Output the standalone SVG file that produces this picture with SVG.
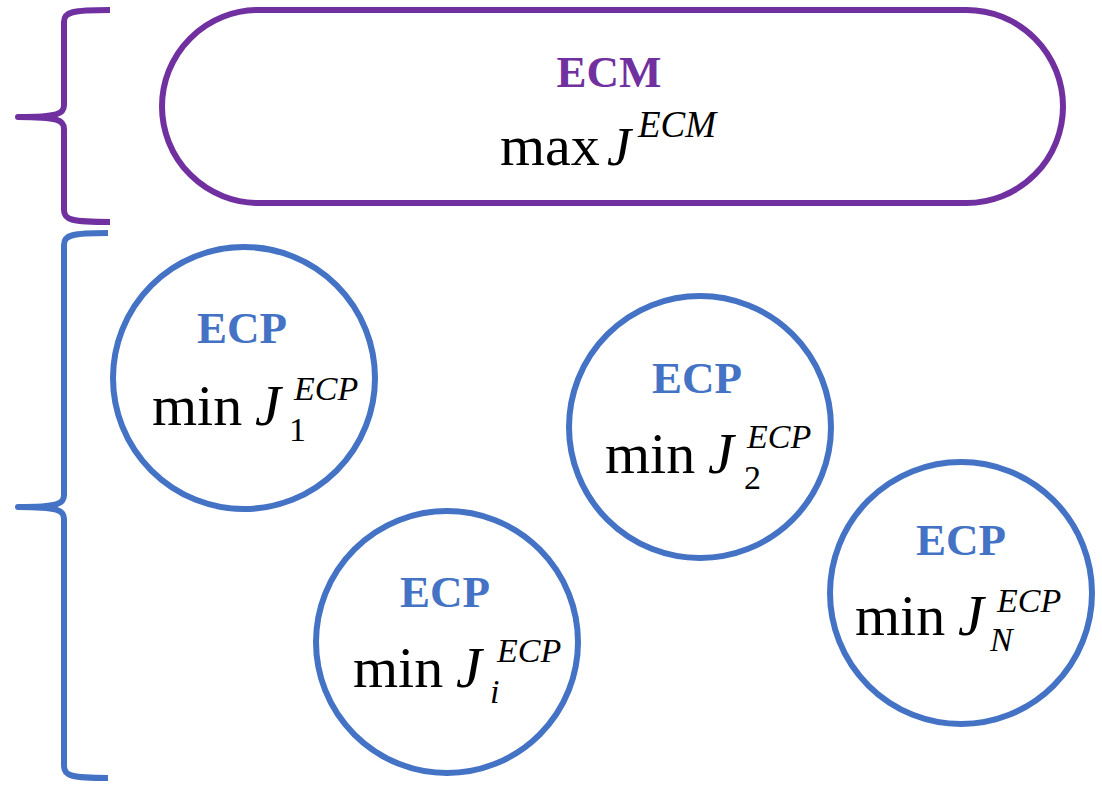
<svg xmlns="http://www.w3.org/2000/svg" width="1102" height="785" viewBox="0 0 1102 785">
<style>
.brace{fill:none;stroke-width:6;stroke-linejoin:round}
.node{fill:#fff;stroke:#4472C4;stroke-width:6}
text{font-family:'Liberation Serif','Times New Roman',Times,serif}
.lbl{font-weight:bold;font-size:45px;text-anchor:middle}
.m{font-size:58px;fill:#000}
.it{font-style:italic;fill:#000}
.J{font-size:58px}
.s{font-size:34px}
</style>
<rect width="1102" height="785" fill="#fff"/>
<g id="braces">
<path class="brace" stroke="#7030A0" d="M110,10 C72,10 64,12 64,22 L64,105 C64,114 58,117 18,117 C58,117 64,120 64,129 L64,210 C64,220 72,222 110,222"/>
<path class="brace" stroke="#4472C4" d="M108,233 C72,233 64,235 64,245 L64,495 C64,504 58,507 18,507 C58,507 64,510 64,519 L64,766 C64,776 72,778 108,778"/>
</g>
<g id="ecm">
<rect x="162" y="10" width="901" height="193" rx="96.5" fill="#fff" stroke="#7030A0" stroke-width="6"/>
<text class="lbl" x="609" y="87" fill="#7030A0">ECM</text>
<text class="m" x="500" y="165" font-size="49">max</text>
<text class="it" x="607" y="165" font-size="54">J</text>
<text class="it" x="638" y="137" font-size="37">ECM</text>
</g>
<g id="ecp1">
<circle class="node" cx="244" cy="378" r="131"/>
<text class="lbl" x="242" y="343" fill="#4472C4">ECP</text>
<text class="m" x="152" y="425">min</text>
<text class="it J" x="255" y="425">J</text>
<text class="it s" x="294" y="400">ECP</text>
<text class="m s" x="289" y="441">1</text>
</g>
<g id="ecp2">
<circle class="node" cx="700" cy="427" r="131"/>
<text class="lbl" x="697" y="393" fill="#4472C4">ECP</text>
<text class="m" x="605" y="473">min</text>
<text class="it J" x="708" y="473">J</text>
<text class="it s" x="747" y="448">ECP</text>
<text class="m s" x="744" y="489">2</text>
</g>
<g id="ecpi">
<circle class="node" cx="447" cy="642" r="131"/>
<text class="lbl" x="445" y="607" fill="#4472C4">ECP</text>
<text class="m" x="353" y="687">min</text>
<text class="it J" x="456" y="687">J</text>
<text class="it s" x="497" y="662">ECP</text>
<text class="it s" x="490" y="703">i</text>
</g>
<g id="ecpN">
<circle class="node" cx="961" cy="593" r="131"/>
<text class="lbl" x="961" y="555" fill="#4472C4">ECP</text>
<text class="m" x="855" y="635">min</text>
<text class="it J" x="958" y="635">J</text>
<text class="it s" x="997" y="612">ECP</text>
<text class="it s" x="990" y="651">N</text>
</g>
<g id="connectors"></g>
</svg>
